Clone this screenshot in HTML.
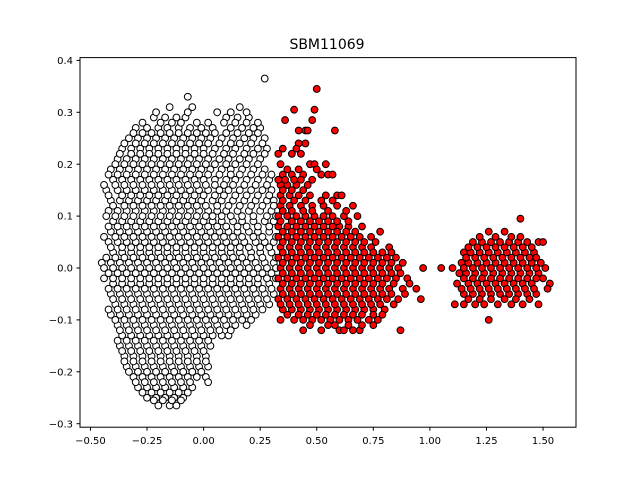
<!DOCTYPE html>
<html><head><meta charset="utf-8"><style>
body{margin:0;background:#fff}
svg{display:block;font-family:"DejaVu Sans","Liberation Sans",sans-serif}
</style></head><body>
<svg id="chart" width="640" height="480" viewBox="0 0 640 480">
<rect width="640" height="480" fill="#fff"/>
<text x="327" y="49" text-anchor="middle" font-size="14">SBM11069</text>
<g id="plot"></g>
<rect x="80" y="57.6" width="496" height="369.6" fill="none" stroke="#000" stroke-width="1"/>
<g id="axes"></g>
</svg>
<script>
// White cluster rows: [y, x values...]
const whiteRows = [
[0.365,0.27],[0.33,-0.07],[0.31,-0.15,-0.05,0.16],
[0.29,-0.22,-0.17,-0.12,-0.08,0.1,0.15,0.2],
[0.27,-0.3,-0.25,-0.2,-0.16,-0.11,-0.06,-0.01,0.04,0.12,0.17,0.22,0.25],
[0.25,-0.33,-0.29,-0.25,-0.21,-0.17,-0.13,-0.09,-0.05,-0.01,0.03,0.08,0.13,0.18,0.22,0.27],
[0.23,-0.36,-0.32,-0.28,-0.24,-0.2,-0.16,-0.12,-0.08,-0.04,0.0,0.05,0.1,0.14,0.19,0.24,0.28],
[0.21,-0.38,-0.34,-0.3,-0.26,-0.22,-0.18,-0.14,-0.1,-0.06,-0.02,0.02,0.07,0.11,0.16,0.2,0.25],
[0.19,-0.41,-0.37,-0.33,-0.29,-0.25,-0.21,-0.17,-0.13,-0.09,-0.05,-0.01,0.03,0.08,0.12,0.17,0.22,0.27],
[0.17,-0.4,-0.36,-0.32,-0.28,-0.24,-0.2,-0.16,-0.12,-0.08,-0.04,0.0,0.05,0.1,0.14,0.19,0.24,0.29],
[0.15,-0.43,-0.38,-0.34,-0.3,-0.26,-0.22,-0.18,-0.14,-0.1,-0.06,-0.02,0.02,0.07,0.11,0.16,0.21,0.26,0.3],
[0.13,-0.41,-0.37,-0.33,-0.29,-0.25,-0.21,-0.17,-0.13,-0.09,-0.05,-0.01,0.04,0.08,0.13,0.18,0.23,0.28,0.31],
[0.11,-0.42,-0.38,-0.34,-0.3,-0.26,-0.22,-0.18,-0.14,-0.1,-0.06,-0.02,0.02,0.06,0.1,0.15,0.2,0.25,0.3],
[0.09,-0.4,-0.36,-0.32,-0.28,-0.24,-0.2,-0.16,-0.12,-0.08,-0.04,0.0,0.04,0.08,0.13,0.17,0.22,0.27,0.31],
[0.07,-0.41,-0.37,-0.33,-0.29,-0.25,-0.21,-0.17,-0.13,-0.09,-0.05,-0.01,0.03,0.07,0.11,0.15,0.2,0.24,0.29],
[0.05,-0.42,-0.38,-0.34,-0.3,-0.26,-0.22,-0.18,-0.14,-0.1,-0.06,-0.02,0.02,0.06,0.1,0.14,0.18,0.23,0.27,0.31],
[0.03,-0.4,-0.36,-0.32,-0.28,-0.24,-0.2,-0.16,-0.12,-0.08,-0.04,0.0,0.04,0.08,0.12,0.16,0.21,0.25,0.3],
[0.01,-0.45,-0.41,-0.37,-0.33,-0.29,-0.25,-0.21,-0.17,-0.13,-0.09,-0.05,-0.01,0.03,0.07,0.11,0.15,0.19,0.23,0.27,0.31],
[-0.01,-0.42,-0.38,-0.34,-0.3,-0.26,-0.22,-0.18,-0.14,-0.1,-0.06,-0.02,0.02,0.06,0.1,0.14,0.18,0.22,0.26,0.3],
[-0.03,-0.4,-0.36,-0.32,-0.28,-0.24,-0.2,-0.16,-0.12,-0.08,-0.04,0.0,0.04,0.08,0.12,0.16,0.2,0.24,0.29],
[-0.05,-0.41,-0.37,-0.33,-0.29,-0.25,-0.21,-0.17,-0.13,-0.09,-0.05,-0.01,0.03,0.07,0.11,0.15,0.19,0.23,0.27,0.31],
[-0.07,-0.39,-0.35,-0.31,-0.27,-0.23,-0.19,-0.15,-0.11,-0.07,-0.03,0.01,0.05,0.09,0.13,0.17,0.21,0.25,0.29],
[-0.09,-0.41,-0.37,-0.33,-0.29,-0.25,-0.21,-0.17,-0.13,-0.09,-0.05,-0.01,0.03,0.07,0.11,0.15,0.19,0.23],
[-0.11,-0.38,-0.34,-0.3,-0.26,-0.22,-0.18,-0.14,-0.1,-0.06,-0.02,0.02,0.06,0.1,0.14,0.19],
[-0.13,-0.36,-0.32,-0.28,-0.24,-0.2,-0.16,-0.12,-0.08,-0.04,0.0,0.04,0.08,0.11],
[-0.15,-0.37,-0.33,-0.29,-0.25,-0.21,-0.17,-0.13,-0.09,-0.05,-0.01,0.03],
[-0.17,-0.35,-0.31,-0.27,-0.23,-0.19,-0.15,-0.11,-0.07,-0.03,0.01],
[-0.19,-0.34,-0.3,-0.26,-0.22,-0.18,-0.14,-0.1,-0.06,-0.02,0.02],
[-0.21,-0.31,-0.27,-0.23,-0.19,-0.15,-0.11,-0.07,-0.03,0.01],
[-0.23,-0.29,-0.25,-0.21,-0.17,-0.13,-0.09,-0.05],
[-0.25,-0.25,-0.21,-0.17,-0.13,-0.09],
[-0.265,-0.2,-0.15,-0.12]
];
// Second, interleaved layer of white points (rows in between)
const whiteRowsB = [
[0.3,-0.21,-0.07,0.06,0.12,0.19],
[0.28,-0.27,-0.19,-0.14,-0.1,-0.03,0.02,0.09,0.14,0.19,0.24],
[0.26,-0.31,-0.27,-0.23,-0.19,-0.15,-0.11,-0.07,-0.03,0.01,0.05,0.1,0.15,0.2,0.24],
[0.24,-0.35,-0.3,-0.26,-0.22,-0.18,-0.14,-0.1,-0.06,-0.02,0.02,0.07,0.12,0.16,0.21,0.26],
[0.22,-0.37,-0.32,-0.28,-0.24,-0.2,-0.16,-0.12,-0.08,-0.04,0.0,0.04,0.09,0.13,0.18,0.22,0.27],
[0.2,-0.39,-0.35,-0.31,-0.27,-0.23,-0.19,-0.15,-0.11,-0.07,-0.03,0.01,0.05,0.1,0.14,0.19,0.24],
[0.18,-0.42,-0.38,-0.34,-0.3,-0.26,-0.22,-0.18,-0.14,-0.1,-0.06,-0.02,0.02,0.07,0.12,0.16,0.21,0.26,0.3],
[0.16,-0.44,-0.39,-0.35,-0.31,-0.27,-0.23,-0.19,-0.15,-0.11,-0.07,-0.03,0.01,0.05,0.09,0.13,0.18,0.23,0.28],
[0.14,-0.42,-0.36,-0.32,-0.28,-0.24,-0.2,-0.16,-0.12,-0.08,-0.04,0.0,0.05,0.09,0.14,0.19,0.24,0.29],
[0.12,-0.4,-0.35,-0.31,-0.27,-0.23,-0.19,-0.15,-0.11,-0.07,-0.03,0.01,0.06,0.11,0.16,0.21,0.26,0.31],
[0.1,-0.43,-0.39,-0.35,-0.31,-0.27,-0.23,-0.19,-0.15,-0.11,-0.07,-0.03,0.01,0.04,0.08,0.12,0.17,0.22,0.28,0.32],
[0.08,-0.42,-0.38,-0.34,-0.3,-0.26,-0.22,-0.18,-0.14,-0.1,-0.06,-0.02,0.02,0.06,0.1,0.15,0.19,0.24,0.29],
[0.06,-0.44,-0.39,-0.35,-0.31,-0.27,-0.23,-0.19,-0.15,-0.11,-0.07,-0.03,0.01,0.05,0.09,0.13,0.17,0.22,0.26,0.32],
[0.04,-0.41,-0.36,-0.32,-0.28,-0.24,-0.2,-0.16,-0.12,-0.08,-0.04,0.0,0.04,0.08,0.12,0.16,0.2,0.25,0.29],
[0.02,-0.43,-0.39,-0.35,-0.31,-0.27,-0.23,-0.19,-0.15,-0.11,-0.07,-0.03,0.01,0.05,0.09,0.13,0.17,0.21,0.26,0.32],
[0.0,-0.44,-0.4,-0.36,-0.32,-0.28,-0.24,-0.2,-0.16,-0.12,-0.08,-0.04,0.0,0.04,0.08,0.12,0.16,0.2,0.24,0.28,0.32],
[-0.02,-0.44,-0.4,-0.36,-0.32,-0.28,-0.24,-0.2,-0.16,-0.12,-0.08,-0.04,0.0,0.04,0.08,0.12,0.16,0.2,0.24,0.28,0.32],
[-0.04,-0.42,-0.38,-0.34,-0.3,-0.26,-0.22,-0.18,-0.14,-0.1,-0.06,-0.02,0.02,0.06,0.1,0.14,0.18,0.22,0.26,0.3],
[-0.06,-0.4,-0.36,-0.32,-0.28,-0.24,-0.2,-0.16,-0.12,-0.08,-0.04,0.0,0.04,0.08,0.12,0.16,0.2,0.24,0.28],
[-0.08,-0.42,-0.38,-0.34,-0.3,-0.26,-0.22,-0.18,-0.14,-0.1,-0.06,-0.02,0.02,0.06,0.1,0.14,0.18,0.22,0.26],
[-0.1,-0.39,-0.35,-0.31,-0.27,-0.23,-0.19,-0.15,-0.11,-0.07,-0.03,0.01,0.05,0.09,0.13,0.17,0.21],
[-0.12,-0.37,-0.33,-0.29,-0.25,-0.21,-0.17,-0.13,-0.09,-0.05,-0.01,0.03,0.07,0.12],
[-0.14,-0.38,-0.34,-0.3,-0.26,-0.22,-0.18,-0.14,-0.1,-0.06,-0.02,0.02],
[-0.16,-0.36,-0.32,-0.28,-0.24,-0.2,-0.16,-0.12,-0.08,-0.04,0.0],
[-0.18,-0.35,-0.31,-0.27,-0.23,-0.19,-0.15,-0.11,-0.07,-0.03,0.01],
[-0.2,-0.33,-0.29,-0.25,-0.21,-0.17,-0.13,-0.09,-0.05,-0.01],
[-0.22,-0.3,-0.26,-0.22,-0.18,-0.14,-0.1,-0.06,0.02],
[-0.24,-0.27,-0.23,-0.19,-0.15,-0.11,-0.07],
[-0.255,-0.22,-0.18,-0.14,-0.1]
];
// Red cluster rows: [y, x values...]
const redRows = [
[0.345,0.5],[0.305,0.4,0.49],[0.285,0.36,0.48],
[0.265,0.42,0.45,0.46,0.58],[0.24,0.42,0.45],[0.22,0.33,0.39,0.43],
[0.2,0.34,0.47,0.49,0.54],[0.18,0.35,0.39,0.44,0.52,0.55,0.57],
[0.16,0.34,0.37,0.41,0.46],[0.14,0.34,0.38,0.42,0.47,0.54,0.59,0.61],
[0.12,0.34,0.38,0.43,0.48,0.53,0.59,0.66],
[0.1,0.33,0.37,0.41,0.45,0.49,0.53,0.57,0.62,0.68],
[0.08,0.33,0.37,0.41,0.45,0.49,0.53,0.57,0.6,0.64,0.7],
[0.06,0.33,0.37,0.41,0.45,0.49,0.53,0.57,0.61,0.65,0.69,0.74],
[0.04,0.34,0.38,0.42,0.46,0.5,0.54,0.58,0.62,0.66,0.7,0.74,0.82],
[0.02,0.33,0.37,0.41,0.45,0.49,0.53,0.57,0.61,0.65,0.69,0.73,0.77,0.81,0.85],
[0.0,0.34,0.38,0.42,0.46,0.5,0.54,0.58,0.62,0.66,0.7,0.74,0.78,0.82,0.86,0.97],
[-0.02,0.33,0.37,0.41,0.45,0.49,0.53,0.57,0.61,0.65,0.69,0.73,0.77,0.81,0.85,0.9],
[-0.04,0.34,0.38,0.42,0.46,0.5,0.54,0.58,0.62,0.66,0.7,0.74,0.78,0.82,0.88,0.94],
[-0.06,0.33,0.37,0.41,0.45,0.49,0.53,0.57,0.61,0.65,0.69,0.73,0.77,0.81,0.86,0.96],
[-0.08,0.35,0.39,0.43,0.47,0.51,0.55,0.59,0.63,0.67,0.71,0.75,0.8],
[-0.1,0.34,0.4,0.44,0.48,0.52,0.56,0.6,0.64,0.68,0.73,0.77],
[-0.12,0.44,0.52,0.6,0.62,0.66,0.69,0.87],
[0.095,1.4],[0.07,1.26,1.33],
[0.05,1.19,1.23,1.27,1.31,1.35,1.39,1.43,1.48,1.5],
[0.03,1.15,1.18,1.22,1.26,1.3,1.34,1.38,1.42,1.46],
[0.01,1.14,1.17,1.21,1.25,1.29,1.33,1.37,1.41,1.45,1.49],
[0.0,1.05,1.1],
[-0.01,1.13,1.16,1.2,1.24,1.28,1.32,1.36,1.4,1.44,1.48],
[-0.03,1.12,1.17,1.21,1.25,1.29,1.33,1.37,1.41,1.45,1.53],
[-0.05,1.15,1.19,1.23,1.27,1.31,1.35,1.39,1.43,1.47],
[-0.07,1.11,1.15,1.2,1.24,1.3,1.36,1.41,1.48],
[-0.1,1.26]
];
// Second, interleaved layer of red points
const redRowsB = [
[0.23,0.35,0.41],[0.19,0.37,0.42,0.5],[0.17,0.33,0.36,0.4,0.43,0.48],
[0.15,0.35,0.39,0.44],[0.13,0.35,0.4,0.45,0.52,0.57],
[0.11,0.35,0.39,0.44,0.48,0.55,0.63],
[0.09,0.34,0.39,0.43,0.47,0.51,0.55,0.59,0.64],
[0.07,0.35,0.39,0.43,0.47,0.51,0.55,0.59,0.63,0.67,0.78],
[0.05,0.35,0.39,0.43,0.47,0.51,0.55,0.59,0.63,0.67,0.71,0.76],
[0.03,0.35,0.39,0.43,0.47,0.51,0.55,0.59,0.63,0.67,0.71,0.75,0.79,0.83],
[0.01,0.35,0.39,0.43,0.47,0.51,0.55,0.59,0.63,0.67,0.71,0.75,0.79,0.83,0.88],
[-0.01,0.35,0.39,0.43,0.47,0.51,0.55,0.59,0.63,0.67,0.71,0.75,0.79,0.83,0.87],
[-0.03,0.35,0.39,0.43,0.47,0.51,0.55,0.59,0.63,0.67,0.71,0.75,0.79,0.84,0.91],
[-0.05,0.35,0.39,0.43,0.47,0.51,0.55,0.59,0.63,0.67,0.71,0.75,0.79,0.83,0.89],
[-0.07,0.34,0.38,0.42,0.46,0.5,0.54,0.58,0.62,0.66,0.7,0.74,0.78,0.84],
[-0.09,0.37,0.42,0.46,0.5,0.54,0.58,0.62,0.66,0.7,0.75,0.79],
[-0.11,0.47,0.55,0.58,0.64,0.7,0.75],
[0.06,1.22,1.29,1.36,1.4],[0.04,1.17,1.21,1.25,1.29,1.33,1.37,1.41,1.45],
[0.02,1.16,1.2,1.24,1.28,1.32,1.36,1.4,1.44,1.47],
[0.0,1.15,1.19,1.23,1.27,1.31,1.35,1.39,1.43,1.47,1.51],
[-0.02,1.15,1.19,1.23,1.27,1.31,1.35,1.39,1.43,1.47,1.5],
[-0.04,1.14,1.18,1.22,1.26,1.3,1.34,1.38,1.42,1.46,1.52],
[-0.06,1.17,1.22,1.27,1.33,1.38,1.44]
];
const xTicks = [-0.5,-0.25,0,0.25,0.5,0.75,1,1.25,1.5];
const xTickLabels = ["−0.50","−0.25","0.00","0.25","0.50","0.75","1.00","1.25","1.50"];
const yTicks = [-0.3,-0.2,-0.1,0,0.1,0.2,0.3,0.4];
const yTickLabels = ["−0.3","−0.2","−0.1","0.0","0.1","0.2","0.3","0.4"];

const X = v => 203.6 + v * 226.3;
const Y = v => 268 - v * 519;
const NS = "http://www.w3.org/2000/svg";
const plot = document.getElementById('plot');
const axes = document.getElementById('axes');

function drawRows(rows, fill, name) {
  rows.forEach(r => {
    for (let i = 1; i < r.length; i++) {
      const c = document.createElementNS(NS, 'circle');
      c.setAttribute('cx', X(r[i]));
      c.setAttribute('cy', Y(r[0]));
      c.setAttribute('r', 3.4);
      c.setAttribute('fill', fill);
      c.setAttribute('stroke', '#000');
      c.setAttribute('stroke-width', 1);
      
      
      plot.appendChild(c);
    }
  });
}
drawRows(whiteRows, '#fff', 'white-point');
drawRows(whiteRowsB, '#fff', 'white-point');
drawRows(redRows, '#ff0000', 'red-point');
drawRows(redRowsB, '#ff0000', 'red-point');

xTicks.forEach((t, i) => {
  const l = document.createElementNS(NS, 'line');
  l.setAttribute('x1', X(t)); l.setAttribute('x2', X(t));
  l.setAttribute('y1', 427.2); l.setAttribute('y2', 430.7);
  l.setAttribute('stroke', '#000');
  
  
  axes.appendChild(l);
  const tx = document.createElementNS(NS, 'text');
  tx.setAttribute('x', X(t)); tx.setAttribute('y', 444);
  tx.setAttribute('text-anchor', 'middle'); tx.setAttribute('font-size', '10');
  tx.textContent = xTickLabels[i];
  
  
  axes.appendChild(tx);
});
yTicks.forEach((t, i) => {
  const l = document.createElementNS(NS, 'line');
  l.setAttribute('x1', 76.5); l.setAttribute('x2', 80);
  l.setAttribute('y1', Y(t)); l.setAttribute('y2', Y(t));
  l.setAttribute('stroke', '#000');
  
  
  axes.appendChild(l);
  const tx = document.createElementNS(NS, 'text');
  tx.setAttribute('x', 73); tx.setAttribute('y', Y(t) + 3.6);
  tx.setAttribute('text-anchor', 'end'); tx.setAttribute('font-size', '10');
  tx.textContent = yTickLabels[i];
  
  
  axes.appendChild(tx);
});
</script>
</body></html>
